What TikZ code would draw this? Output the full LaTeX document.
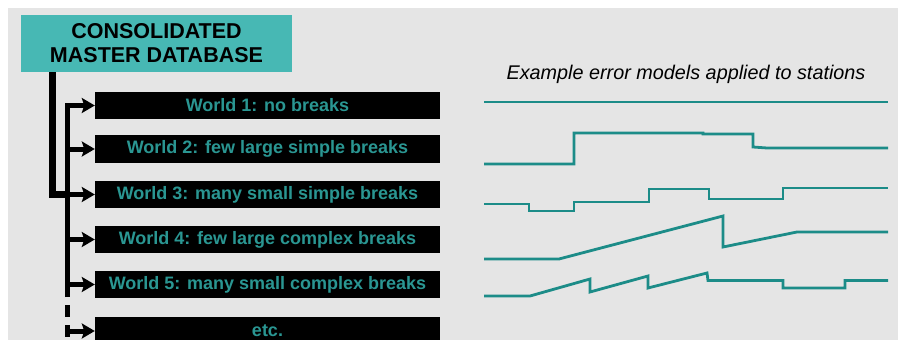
\documentclass[tikz,border=0pt]{standalone}
\usepackage{fontspec}
\setmainfont{Liberation Sans}
\usetikzlibrary{arrows.meta}
\definecolor{bgray}{HTML}{E5E5E5}
\definecolor{boxteal}{HTML}{47B8B4}
\definecolor{txteal}{HTML}{2A9692}
\definecolor{lnteal}{HTML}{1C8C88}
\tikzset{
  worldbox/.style={fill=black, draw=none, minimum width=345pt, minimum height=27.5pt,
    inner sep=0pt, text=txteal, font=\fontsize{18}{20}\selectfont\bfseries},
  dbbox/.style={fill=boxteal, draw=none, minimum width=271pt, minimum height=57pt,
    inner sep=0pt, align=center, font=\fontsize{21.5}{24}\selectfont\bfseries},
  branch/.style={line width=5pt, -{Stealth[length=13pt,width=15pt,inset=2.5pt]}},
  trunk/.style={line width=7pt, line join=miter},
  model/.style={line width=2.8pt, lnteal, line join=miter}
}
\begin{document}
\begin{tikzpicture}[x=1pt,y=-1pt]
\useasboundingbox (0,0) rectangle (898,340);
\clip (0,0) rectangle (898,340);
\fill[white] (0,0) rectangle (898,340);
\fill[bgray] (8,8) rectangle (898,340);

\node[dbbox] (db) at (156.5,43.5) {CONSOLIDATED\\MASTER DATABASE};

\node[worldbox] (w1) at (267.5,105.5) {World 1: no breaks};
\node[worldbox] (w2) at (267.5,149) {World 2: few large simple breaks};
\node[worldbox] (w3) at (267.5,194.5) {World 3: many small simple breaks};
\node[worldbox] (w4) at (267.5,239.5) {World 4: few large complex breaks};
\node[worldbox] (w5) at (267.5,284.5) {World 5: many small complex breaks};
\node[worldbox] (w6) at (267.5,331) {etc.};

\coordinate (tx) at (52,0);
\coordinate (sx) at (67,0);
\coordinate (sbot) at (67,297);
\coordinate (dtop) at (67,305);
\coordinate (dbot) at (67,317);
\coordinate (etop) at (67,325);
\coordinate (ebot) at (67,337);

% trunk from database
\draw[trunk] (tx |- db.south) -- (tx |- w3.west) -- (sx |- w3.west);
% inner spine
\draw[branch, line join=miter] (sbot) -- (sx |- w1.west) -- (w1.west);
\draw[branch] (sx |- w2.west) -- (w2.west);
\draw[branch] (sx |- w3.west) -- (w3.west);
\draw[branch] (sx |- w4.west) -- (w4.west);
\draw[branch] (sx |- w5.west) -- (w5.west);
\draw[line width=5pt] (dtop) -- (dbot);
\draw[line width=5pt] (etop) -- (ebot);
\draw[branch] (sx |- w6.west) -- (w6.west);

\node[anchor=base, font=\fontsize{19.8}{22}\selectfont\itshape] (title) at (686,79)
  {Example error models applied to stations};

% error models
\draw[model] (484,102) -- (888,102);
\draw[model] (484,164) -- (574,164) -- (574,133) -- (703,133) -- (703,134)
  -- (753,134) -- (753,147) -- (767,148) -- (888,148);
\draw[model] (484,204) -- (529,204) -- (529,211) -- (574,211) -- (574,202)
  -- (649,202) -- (649,189) -- (709,189) -- (709,199) -- (783,199)
  -- (783,188) -- (888,188);
\draw[model] (484,259) -- (559,259) -- (723,216) -- (723,247) -- (797,232) -- (888,232);
\draw[model] (484,296) -- (530,296) -- (590,279) -- (590,292) -- (648,276)
  -- (648,288) -- (707,273) -- (708,280.5) -- (783,280.5) -- (783,288)
  -- (845,288) -- (845,280.5) -- (888,280.5);
\end{tikzpicture}
\end{document}
